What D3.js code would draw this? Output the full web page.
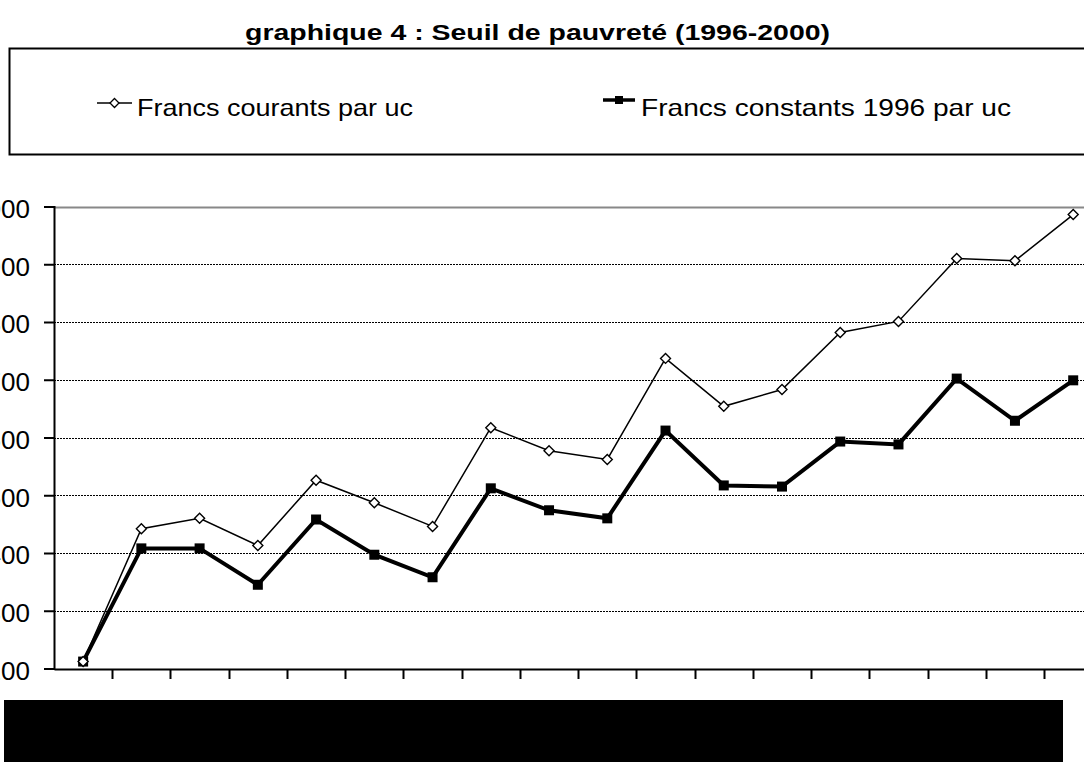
<!DOCTYPE html>
<html>
<head>
<meta charset="utf-8">
<script src="https://cdn.jsdelivr.net/npm/d3@7"></script>
<style>
  html, body { margin: 0; padding: 0; background: #fff; }
  svg { display: block; font-family: "Liberation Sans", Arial, sans-serif; }
</style>
</head>
<body>
<svg id="chart" width="1084" height="762"></svg>
<script>
const categories = ["T1 1996","T2 1996","T3 1996","T4 1996","T1 1997","T2 1997","T3 1997","T4 1997",
  "T1 1998","T2 1998","T3 1998","T4 1998","T1 1999","T2 1999","T3 1999","T4 1999","T1 2000","T2 2000"];
const courants = [3212, 3442, 3460, 3413, 3526, 3487, 3446, 3617, 3577, 3562, 3737, 3654, 3683, 3782, 3801, 3910, 3906, 3986];
const constants = [3212, 3408, 3408, 3345, 3458, 3397, 3358, 3512, 3474, 3460, 3612, 3517, 3515, 3593, 3588, 3702, 3629, 3699];
const yTicks = [3200, 3300, 3400, 3500, 3600, 3700, 3800, 3900, 4000];
const seriesNames = ["Francs courants par uc", "Francs constants 1996 par uc"];
const titleText = "graphique 4 : Seuil de pauvreté (1996-2000)";

const svg = d3.select("#chart");
const W = 1084, H = 762;

svg.append("defs").append("clipPath").attr("id", "labelClip")
  .attr("clipPathUnits", "userSpaceOnUse")
  .append("rect").attr("x", 4).attr("y", 690).attr("width", 1059).attr("height", 72);

const x = d3.scaleBand().domain(categories).range([54, 54 + 18 * 58.24]).padding(0);
const y = d3.scaleLinear().domain([3200, 4000]).range([668.5, 206.5]);

// Title
svg.append("text")
  .attr("x", 245).attr("y", 40)
  .attr("font-size", 22).attr("font-weight", "bold")
  .attr("textLength", 585).attr("lengthAdjust", "spacingAndGlyphs")
  .text(titleText);

// Legend box (right side runs off the page)
svg.append("path")
  .attr("d", "M1090,48.5 H9.5 V154.5 H1090")
  .attr("fill", "none").attr("stroke", "#000").attr("stroke-width", 2);

// Legend entries
const lg1 = svg.append("g");
lg1.append("line").attr("x1", 97).attr("x2", 132).attr("y1", 103).attr("y2", 103)
  .attr("stroke", "#000").attr("stroke-width", 1.5);
lg1.append("path").attr("d", "M0,-4.5 L4.5,0 L0,4.5 L-4.5,0 Z")
  .attr("transform", "translate(114.5,103)")
  .attr("fill", "#fff").attr("stroke", "#000").attr("stroke-width", 1.3);
lg1.append("text").attr("x", 137).attr("y", 116).attr("font-size", 24)
  .attr("textLength", 276).attr("lengthAdjust", "spacingAndGlyphs")
  .text(seriesNames[0]);

const lg2 = svg.append("g");
lg2.append("line").attr("x1", 603).attr("x2", 635).attr("y1", 100).attr("y2", 100)
  .attr("stroke", "#000").attr("stroke-width", 3.5);
lg2.append("rect").attr("x", 615).attr("y", 96).attr("width", 8).attr("height", 8).attr("fill", "#000");
lg2.append("text").attr("x", 641).attr("y", 116).attr("font-size", 24)
  .attr("textLength", 370).attr("lengthAdjust", "spacingAndGlyphs")
  .text(seriesNames[1]);

// Gridlines
svg.append("g").selectAll("line").data(yTicks.slice(1)).join("line")
  .attr("x1", 54).attr("x2", W)
  .attr("y1", d => Math.round(y(d)) + 0.5).attr("y2", d => Math.round(y(d)) + 0.5)
  .attr("stroke", (d, i, a) => i === a.length - 1 ? "#888" : "#000")
  .attr("stroke-width", (d, i, a) => i === a.length - 1 ? 2 : 1)
  .attr("stroke-dasharray", (d, i, a) => i === a.length - 1 ? null : "2,1");

// Y axis
const yAxis = d3.axisLeft(y).tickValues(yTicks).tickSize(10).tickPadding(14)
  .tickFormat(d3.format("d"));
const gy = svg.append("g").attr("transform", "translate(54,0)").call(yAxis);
gy.select(".domain").attr("stroke-width", 2);
gy.selectAll(".tick line").attr("stroke-width", 2);
gy.selectAll(".tick text").attr("font-size", 26).attr("fill", "#000")
  .attr("font-family", "'Liberation Sans', Arial, sans-serif").attr("dy", "0.42em");

// X axis: category labels sit under the black block, as in the reference
const xAxis = d3.axisBottom(x).tickSize(0).tickPadding(50);
const gx = svg.append("g").attr("transform", "translate(0,669)").call(xAxis);
gx.select(".domain").attr("stroke-width", 2);
gx.selectAll(".tick text").attr("font-size", 14).attr("fill", "#000");

// category boundary ticks
svg.append("g").selectAll("line").data(categories.slice(1)).join("line")
  .attr("x1", d => Math.round(x(d)) + 0.5).attr("x2", d => Math.round(x(d)) + 0.5)
  .attr("y1", 669).attr("y2", 679)
  .attr("stroke", "#000").attr("stroke-width", 2);

const cx = d => x(d) + x.bandwidth() / 2;

const line = d3.line().x(d => cx(d[0])).y(d => y(d[1]));
const dConst = categories.map((c, i) => [c, constants[i]]);
const dCour = categories.map((c, i) => [c, courants[i]]);

// Series: constants (thick, squares)
svg.append("path").datum(dConst).attr("d", line)
  .attr("fill", "none").attr("stroke", "#000").attr("stroke-width", 4).attr("stroke-linejoin", "miter");
svg.append("g").selectAll("rect").data(dConst).join("rect")
  .attr("x", d => cx(d[0]) - 5).attr("y", d => y(d[1]) - 5)
  .attr("width", 10).attr("height", 10).attr("fill", "#000");

// Series: courants (thin, diamonds)
svg.append("path").datum(dCour).attr("d", line)
  .attr("fill", "none").attr("stroke", "#000").attr("stroke-width", 1.5);
svg.append("g").selectAll("path").data(dCour).join("path")
  .attr("d", "M0,-5 L5,0 L0,5 L-5,0 Z")
  .attr("transform", d => `translate(${cx(d[0])},${y(d[1])})`)
  .attr("fill", "#fff").attr("stroke", "#000").attr("stroke-width", 1.4);

// Black block over the category labels
svg.append("rect").attr("x", 4).attr("y", 700).attr("width", 1059).attr("height", 62).attr("fill", "#000");
// move the labels above the block (still hidden by it) and clip them to its extent
const labelLayer = svg.append("g").attr("clip-path", "url(#labelClip)");
gx.selectAll(".tick").each(function () {
  const t = d3.select(this);
  const txt = t.select("text").remove();
  labelLayer.append(() => txt.node())
    .attr("transform", t.attr("transform") + " translate(0,669)")
    .attr("fill", "#000");
});
</script>
</body>
</html>
